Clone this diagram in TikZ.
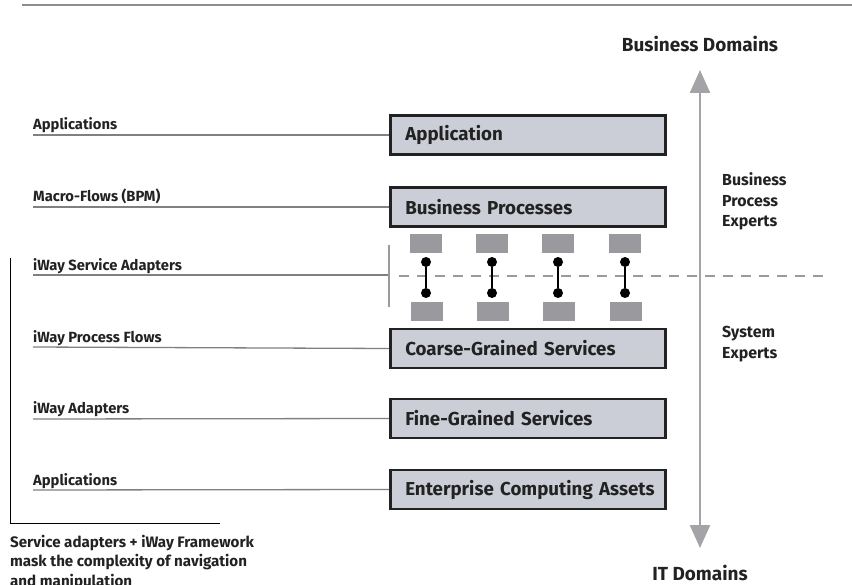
\documentclass[tikz,border=0pt]{standalone}
\usepackage{fontspec}
\setmainfont{Fira Sans}
\usetikzlibrary{arrows.meta}
\definecolor{boxfill}{HTML}{CBCED6}
\definecolor{boxline}{HTML}{222222}
\definecolor{txt}{HTML}{222222}
\definecolor{midgray}{HTML}{9A9A9E}
\definecolor{linegray}{HTML}{808080}
\newcommand{\boxindent}{\hspace*{7.5bp}}
\begin{document}
\begin{tikzpicture}[x=1bp,y=-1bp,
  layerbox/.style={draw=boxline,line width=2.6bp,fill=boxfill,anchor=west,
    minimum height=39bp,text width=260bp,inner xsep=7.5bp,align=left,
    font=\fontsize{18.8}{22}\selectfont\bfseries,text=txt},
  leftlabel/.style={anchor=base west,inner sep=0pt,font=\fontsize{14.8}{17}\selectfont\bfseries,text=txt},
  labelline/.style={draw=linegray,line width=1.3bp},
  port/.style={fill=midgray,minimum width=32bp,minimum height=19bp,inner sep=0pt},
  dot/.style={circle,fill=black,minimum size=10bp,inner sep=0pt},
  sidetext/.style={anchor=north west,inner sep=0pt,align=left,font=\fontsize{16}{21}\selectfont\bfseries,text=txt},
  heading/.style={inner sep=0pt,font=\fontsize{19}{22}\selectfont\bfseries,text=txt}]
\useasboundingbox (0,0) rectangle (852,585);
% top rule
\coordinate (tl) at (22,5);
\coordinate (tr) at (852,5);
\draw[draw=linegray!90,line width=2bp] (tl) -- (tr);
% boxes
\node[layerbox] (app) at (389,135) {\boxindent Application};
\node[layerbox] (bp) at (389,207) {\boxindent Business Processes};
\node[layerbox] (cgs) at (389,348.5) {\boxindent Coarse-Grained Services};
\node[layerbox] (fgs) at (389,418.5) {\boxindent Fine-Grained Services};
\node[layerbox] (eca) at (389,489.5) {\boxindent Enterprise Computing Assets};
% left labels
\node[leftlabel] (t1) at (33,130) {Applications};
\node[leftlabel] (t2) at (33,202) {Macro-Flows (BPM)};
\node[leftlabel] (t3) at (33,270) {iWay Service Adapters};
\node[leftlabel] (t4) at (33,342) {iWay Process Flows};
\node[leftlabel] (t5) at (33,413) {iWay Adapters};
\node[leftlabel] (t6) at (33,485) {Applications};
\coordinate (s1) at (33,135);
\coordinate (s2) at (33,207);
\coordinate (s3) at (33,275);
\coordinate (s4) at (33,347);
\coordinate (s5) at (33,419);
\coordinate (s6) at (33,490);
\draw[labelline] (s1) -- (app.west);
\draw[labelline] (s2) -- (bp.west);
\coordinate (vbT) at (389,245);
\coordinate (vbB) at (389,307);
\coordinate (vbM) at (389,275);
\draw[labelline] (s3) -- (vbM);
\draw[draw=midgray,line width=2bp] (vbT) -- (vbB);
\draw[labelline] (s4) -- (cgs.west);
\draw[labelline] (s5) -- (fgs.west);
\draw[labelline] (s6) -- (eca.west);
% dashed line
\coordinate (dL) at (399,276);
\coordinate (dR) at (826,276);
\draw[draw=midgray,line width=2bp,dash pattern=on 10bp off 8bp] (dL) -- (dR);
% ports
\foreach \i/\x in {1/426,2/492,3/558,4/625}{
  \node[port] (pt\i) at (\x,243.5) {};
  \node[port] (pb\i) at (\x+1,311.5) {};
  \node[dot] (dt\i) at (\x,262) {};
  \node[dot] (db\i) at (\x,293) {};
  \draw[line width=1.5bp] (dt\i) -- (db\i);
}
% vertical arrow
\node[heading] (bd) at (700,44) {Business Domains};
\node[heading] (itd) at (700,573) {IT Domains};
\coordinate (aT) at (700,70);
\coordinate (aB) at (700,548);
\draw[draw=midgray!90,line width=2.4bp,{Triangle[width=20bp,length=23bp]}-{Triangle[width=20bp,length=23bp]}] (aT) -- (aB);
% side texts
\node[sidetext] (bpe) at (722,172) {Business\\Process\\Experts};
\node[sidetext] (se) at (722,326) {System\\Experts};
% bracket
\coordinate (bkT) at (10,258);
\coordinate (bkC) at (10,523);
\coordinate (bkR) at (220,523);
\draw[line width=0.9bp] (bkT) -- (bkC) -- (bkR);
\node[anchor=north west,inner sep=0pt,align=left,font=\fontsize{15.2}{19.5}\selectfont\bfseries,text=txt] (note) at (10,535)
  {Service adapters + iWay Framework\\mask the complexity of navigation\\and manipulation};
\end{tikzpicture}
\end{document}
